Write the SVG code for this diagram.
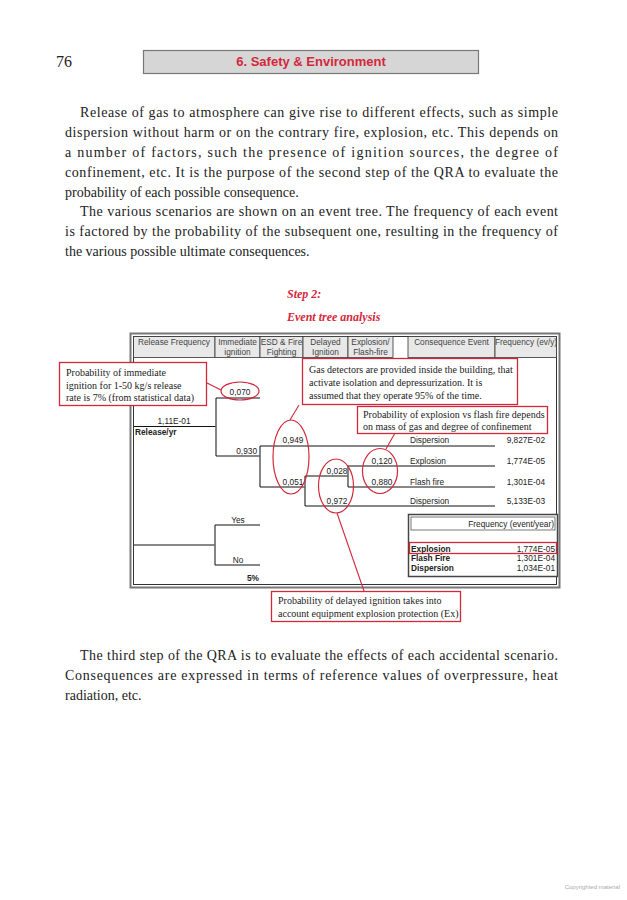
<svg xmlns="http://www.w3.org/2000/svg" width="627" height="900" viewBox="0 0 627 900">
<style>
.body{font-family:"Liberation Serif",serif;font-size:14px;fill:#222}
.cap{font-family:"Liberation Serif",serif;font-size:10px;fill:#222}
.t{font-family:"Liberation Sans",Arial,sans-serif;font-size:8.3px;fill:#222}
.hd{font-family:"Liberation Sans",Arial,sans-serif;font-size:8.3px;fill:#444;text-anchor:middle}
.b{font-weight:bold}
.red{stroke:#d3283c;fill:none;stroke-width:1.2}
.box{stroke:#d3283c;fill:#fff;stroke-width:1.3}
.ln{stroke:#111;stroke-width:1;fill:none}
.vl{stroke:#666;stroke-width:1.6;fill:none}
.cell{fill:#e8e8e8;stroke:#333;stroke-width:0.8}
</style>
<rect width="627" height="900" fill="#fff"/>
<g id="page-header">
<text x="56" y="67" font-family="Liberation Serif,serif" font-size="16" fill="#222">76</text>
<rect x="143.5" y="50.5" width="335" height="23" fill="#d6d6d6" stroke="#777" stroke-width="1.2"/>
<text x="311" y="66" font-family="Liberation Sans,Arial,sans-serif" font-size="13" font-weight="bold" fill="#d3283c" text-anchor="middle">6. Safety &amp; Environment</text>
</g>
<g id="text-top">
<text class="body" x="80" y="117" textLength="478" lengthAdjust="spacing">Release of gas to atmosphere can give rise to different effects, such as simple</text>
<text class="body" x="65" y="137" textLength="493" lengthAdjust="spacing">dispersion without harm or on the contrary fire, explosion, etc. This depends on</text>
<text class="body" x="65" y="157" textLength="493" lengthAdjust="spacing">a number of factors, such the presence of ignition sources, the degree of</text>
<text class="body" x="65" y="177" textLength="493" lengthAdjust="spacing">confinement, etc. It is the purpose of the second step of the QRA to evaluate the</text>
<text class="body" x="65" y="197">probability of each possible consequence.</text>
<text class="body" x="80" y="216" textLength="478" lengthAdjust="spacing">The various scenarios are shown on an event tree. The frequency of each event</text>
<text class="body" x="65" y="236" textLength="493" lengthAdjust="spacing">is factored by the probability of the subsequent one, resulting in the frequency of</text>
<text class="body" x="65" y="256">the various possible ultimate consequences.</text>
</g>
<g id="title" font-family="Liberation Serif,serif" font-size="12" font-weight="bold" font-style="italic" fill="#d3283c">
<text x="287" y="298">Step 2:</text>
<text x="287" y="321">Event tree analysis</text>
</g>
<g id="table-frame">
<rect x="130.5" y="333.5" width="429" height="254" fill="#fff" stroke="#777" stroke-width="2"/>
<rect x="133.5" y="336.5" width="423" height="248" fill="none" stroke="#333" stroke-width="1"/>
<rect class="cell" x="133.5" y="336.5" width="81.5" height="21"/>
<rect class="cell" x="215" y="336.5" width="45" height="21"/>
<rect class="cell" x="260" y="336.5" width="43" height="21"/>
<rect class="cell" x="303" y="336.5" width="45" height="21"/>
<rect class="cell" x="348" y="336.5" width="45" height="21"/>
<rect class="cell" x="408" y="336.5" width="87" height="21"/>
<rect class="cell" x="495" y="336.5" width="61.5" height="21"/>
<text class="hd" x="174" y="344.5">Release Frequency</text>
<text class="hd" x="237.5" y="344.5">Immediate</text><text class="hd" x="237.5" y="354.5">ignition</text>
<text class="hd" x="281.5" y="344.5">ESD &amp; Fire</text><text class="hd" x="281.5" y="354.5">Fighting</text>
<text class="hd" x="325.5" y="344.5">Delayed</text><text class="hd" x="325.5" y="354.5">Ignition</text>
<text class="hd" x="370.5" y="344.5">Explosion/</text><text class="hd" x="370.5" y="354.5">Flash-fire</text>
<text class="hd" x="451.5" y="344.5">Consequence Event</text>
<text class="hd" x="526" y="344.5">Frequency (ev/y)</text>
</g>
<g id="tree-main">
<line class="ln" x1="134" y1="426.5" x2="216" y2="426.5"/>
<text class="t" x="174" y="424" text-anchor="middle">1,11E-01</text>
<text class="t b" x="135" y="434.5" font-size="7.8">Release/yr</text>
<line class="vl" x1="216" y1="398" x2="216" y2="456"/>
<line class="ln" x1="216" y1="398" x2="260" y2="398"/>
<text class="t" x="240" y="394.5" text-anchor="middle">0,070</text>
<line class="ln" x1="216" y1="456" x2="260" y2="456"/>
<text class="t" x="257" y="453.5" text-anchor="end">0,930</text>
<line class="vl" x1="260" y1="446" x2="260" y2="487"/>
<line class="ln" x1="260" y1="446" x2="495" y2="446"/>
<text class="t" x="293" y="443" text-anchor="middle">0,949</text>
<line class="ln" x1="260" y1="487" x2="305" y2="487"/>
<text class="t" x="293" y="484.5" text-anchor="middle">0,051</text>
<line class="vl" x1="305" y1="476" x2="305" y2="506"/>
<line class="ln" x1="305" y1="476" x2="348" y2="476"/>
<text class="t" x="337" y="473.5" text-anchor="middle">0,028</text>
<line class="ln" x1="305" y1="506" x2="495" y2="506"/>
<text class="t" x="337" y="503.5" text-anchor="middle">0,972</text>
<line class="vl" x1="348" y1="466" x2="348" y2="487"/>
<line class="ln" x1="348" y1="466" x2="495" y2="466"/>
<text class="t" x="382" y="463.5" text-anchor="middle">0,120</text>
<line class="ln" x1="348" y1="487" x2="495" y2="487"/>
<text class="t" x="382" y="484.5" text-anchor="middle">0,880</text>
<text class="t" x="410" y="443">Dispersion</text><text class="t" x="545" y="443" text-anchor="end">9,827E-02</text>
<text class="t" x="410" y="463.5">Explosion</text><text class="t" x="545" y="463.5" text-anchor="end">1,774E-05</text>
<text class="t" x="410" y="484.5">Flash fire</text><text class="t" x="545" y="484.5" text-anchor="end">1,301E-04</text>
<text class="t" x="410" y="503.5">Dispersion</text><text class="t" x="545" y="503.5" text-anchor="end">5,133E-03</text>
</g>
<g id="tree-yesno">
<line class="ln" x1="134" y1="545" x2="215" y2="545"/>
<line class="vl" x1="215" y1="525" x2="215" y2="565"/>
<line class="ln" x1="215" y1="525" x2="260" y2="525"/>
<line class="ln" x1="215" y1="565" x2="260" y2="565"/>
<text class="t" x="238" y="522.5" text-anchor="middle">Yes</text>
<text class="t" x="238" y="562.5" text-anchor="middle">No</text>
<text class="t b" x="253" y="581" text-anchor="middle">5%</text>
</g>
<g id="frequency-box">
<rect x="408.5" y="514.5" width="149" height="62" fill="#fff" stroke="#444" stroke-width="1.5"/>
<rect x="411" y="517" width="144" height="13" fill="none" stroke="#555" stroke-width="0.8"/>
<text class="t" x="554" y="526.5" text-anchor="end">Frequency (event/year)</text>
<rect x="409.5" y="542.5" width="147" height="11" fill="none" stroke="#d3283c" stroke-width="1.3"/>
<text class="t b" x="411" y="551.5">Explosion</text><text class="t" x="555" y="551.5" text-anchor="end">1,774E-05</text>
<text class="t b" x="411" y="561">Flash Fire</text><text class="t" x="555" y="561" text-anchor="end">1,301E-04</text>
<text class="t b" x="411" y="570.5">Dispersion</text><text class="t" x="555" y="570.5" text-anchor="end">1,034E-01</text>
</g>
<g id="ellipses">
<ellipse class="red" cx="240" cy="391" rx="19" ry="9"/>
<ellipse class="red" cx="291" cy="457" rx="18" ry="37"/>
<ellipse class="red" cx="336" cy="486" rx="17.5" ry="27"/>
<ellipse class="red" cx="380" cy="471" rx="17.5" ry="22.5"/>
</g>
<g id="connectors" stroke="#d3283c" stroke-width="1.1">
<line x1="207" y1="383" x2="221" y2="390"/>
<line x1="299" y1="405" x2="290" y2="420"/>
<line x1="395" y1="433" x2="386" y2="449"/>
<line x1="364" y1="591" x2="337" y2="513"/>
</g>
<g id="callout-immediate">
<rect class="box" x="59.5" y="362.5" width="147" height="43"/>
<text class="cap" x="66" y="376">Probability of immediate</text>
<text class="cap" x="66" y="388.5">ignition for 1-50 kg/s release</text>
<text class="cap" x="66" y="401">rate is 7% (from statistical data)</text>
</g>
<g id="callout-gas">
<rect class="box" x="302.5" y="358.5" width="215" height="46"/>
<text class="cap" x="309" y="373">Gas detectors are provided inside the building, that</text>
<text class="cap" x="309" y="386">activate isolation and depressurization. It is</text>
<text class="cap" x="309" y="399">assumed that they operate 95% of the time.</text>
</g>
<g id="callout-explosion">
<rect class="box" x="357.5" y="406.5" width="190" height="27"/>
<text class="cap" x="363" y="417.5">Probability of explosion vs flash fire depends</text>
<text class="cap" x="363" y="429.5">on mass of gas and degree of confinement</text>
</g>
<g id="callout-delayed">
<rect class="box" x="271.5" y="591.5" width="189" height="30"/>
<text class="cap" x="278" y="604">Probability of delayed ignition takes into</text>
<text class="cap" x="278" y="617">account equipment explosion protection (Ex)</text>
</g>
<g id="text-bottom">
<text class="body" x="80" y="660" textLength="478" lengthAdjust="spacing">The third step of the QRA is to evaluate the effects of each accidental scenario.</text>
<text class="body" x="65" y="680" textLength="493" lengthAdjust="spacing">Consequences are expressed in terms of reference values of overpressure, heat</text>
<text class="body" x="65" y="700">radiation, etc.</text>
</g>
<text x="620" y="889" font-family="Liberation Sans,Arial,sans-serif" font-size="6" fill="#aaa" text-anchor="end">Copyrighted material</text>
</svg>
